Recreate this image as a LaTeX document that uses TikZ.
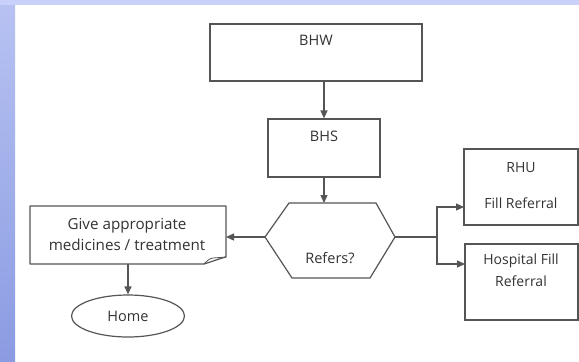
\documentclass[tikz,border=0pt]{standalone}
\usepackage{fontspec}
\setmainfont{Open Sans}
\usetikzlibrary{arrows.meta,shapes.geometric}
\definecolor{linegray}{HTML}{555555}
\definecolor{textgray}{HTML}{333333}
\definecolor{stripTop}{HTML}{B8C3F2}
\definecolor{stripBot}{HTML}{8A9BE2}
\definecolor{topband}{HTML}{C9D1FA}
\begin{document}
\begin{tikzpicture}[x=1bp,y=-1bp,
  line/.style={draw=linegray, line width=1.2bp},
  arr/.style={line, -{Triangle[length=8bp,width=7bp]}},
  box/.style={draw=linegray, line width=1.2bp, rectangle, inner sep=0pt},
  txt/.style={text=textgray, font=\fontsize{14.5bp}{22bp}\selectfont, inner sep=0pt, align=center},
  smalltxt/.style={txt, font=\fontsize{14bp}{22bp}\selectfont}]
\useasboundingbox (0,0) rectangle (579,361);
% page background with the slide's blue borders
\fill[white] (0,0) rectangle (579,361);
\shade[top color=stripTop, bottom color=stripBot] (0,0) rectangle (15,361);
\fill[topband] (0,0) rectangle (579,5);

% top boxes
\node[box, minimum width=212bp, minimum height=57bp] (bhw) at (316,52.5) {};
\node[txt] (bhwlabel) at (316,40) {BHW};
\node[box, minimum width=112bp, minimum height=58bp] (bhs) at (324,148) {};
\node[txt] (bhslabel) at (324,136) {BHS};

% decision hexagon
\coordinate (hl)  at (265,237);
\coordinate (htl) at (289,203);
\coordinate (htr) at (376,203);
\coordinate (hr)  at (395,237);
\coordinate (hbr) at (370,278);
\coordinate (hbl) at (292,278);
\draw[line] (hl) -- (htl) -- (htr) -- (hr) -- (hbr) -- (hbl) -- cycle;
\node[txt] (refers) at (330,258) {Refers?};

% treatment box with a curled corner
\coordinate (gtl) at (30,206);
\coordinate (gtr) at (226,206);
\coordinate (gcr) at (226,257);
\coordinate (gcb) at (204,264);
\coordinate (gbl) at (30,264);
\draw[line, line join=round] (gcb) -- (gbl) -- (gtl) -- (gtr) -- (gcr)
  .. controls (218,259) and (211,262) .. (gcb);
\draw[line, line width=0.8bp] (gcb) .. controls (207,261) and (210,258) .. (213,258) -- (gcr);
\node[txt, font=\fontsize{15.2bp}{21bp}\selectfont] (give) at (127,234) {Give appropriate\\medicines / treatment};
\coordinate (giveR) at (226,237);
\coordinate (giveB) at (128,264);

% end terminal
\node[draw=linegray, line width=1.2bp, ellipse, minimum width=113bp, minimum height=42bp,
      inner sep=0pt, txt] (home) at (128,316) {Home};

% referral boxes
\node[box, minimum width=114bp, minimum height=76bp] (rhu) at (521,187) {};
\node[smalltxt] (rhulabel) at (521,186) {RHU\\[14bp]Fill Referral};
\node[box, minimum width=113bp, minimum height=76bp] (hosp) at (521.5,282) {};
\node[smalltxt] (hosplabel) at (521,270) {Hospital Fill\\Referral};
\coordinate (split) at (437,237);
\coordinate (rhuin) at (464,207);
\coordinate (hospin) at (465,264);

% connectors
\draw[arr] (bhw.south -| bhs.north) -- (bhs.north);
\draw[arr] (bhs.south) -- (bhs.south |- htl);
\draw[arr] (hl) -- (giveR);
\draw[arr] (giveB) -- (home.north);
\draw[line] (hr) -- (split);
\draw[arr] (split) |- (rhuin);
\draw[arr] (split) |- (hospin);
\end{tikzpicture}
\end{document}
